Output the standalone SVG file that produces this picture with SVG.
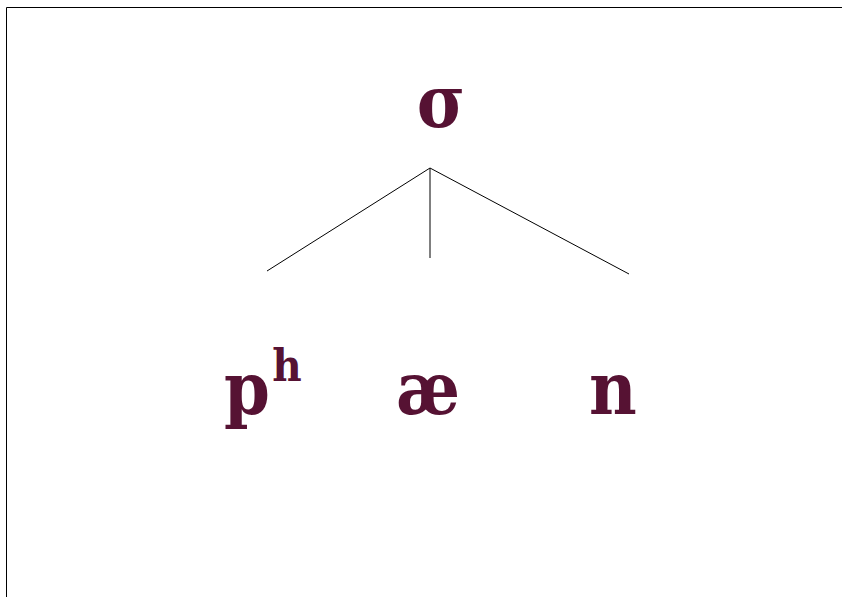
<svg xmlns="http://www.w3.org/2000/svg" width="842" height="597" viewBox="0 0 842 597">
<style>
.t{font-family:"DejaVu Serif Condensed","DejaVu Serif",serif;font-stretch:condensed;font-weight:bold;fill:#561233;text-anchor:middle}
.big{font-size:73px}
.sup{font-size:45px}
.ln{stroke:#000;stroke-width:1;fill:none}
</style>
<rect width="842" height="597" fill="#fff"/>
<g id="frame"><path class="ln" d="M6.5,597 V7.5 H842" stroke-width="1.2"/></g>
<g id="connectors">
<line class="ln" x1="430" y1="168" x2="267" y2="271"/>
<line class="ln" x1="430" y1="168" x2="430" y2="258"/>
<line class="ln" x1="430" y1="168" x2="629" y2="274"/>
</g>
<g id="sigma"><text class="t big" x="441" y="127">σ</text></g>
<g id="ph"><text class="t big" x="247" y="414">p</text><text class="t sup" x="287" y="381">h</text></g>
<g id="ae"><text class="t big" x="428" y="414">æ</text></g>
<g id="n"><text class="t big" x="613" y="414">n</text></g>
</svg>
